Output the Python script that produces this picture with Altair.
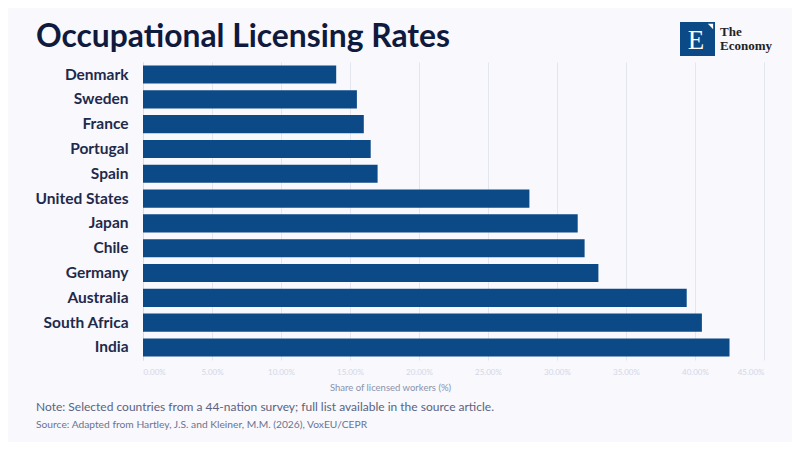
import altair as alt
import pandas as pd

countries = ["Denmark", "Sweden", "France", "Portugal", "Spain", "United States",
             "Japan", "Chile", "Germany", "Australia", "South Africa", "India"]
shares = [0.140, 0.155, 0.160, 0.165, 0.170, 0.280,
          0.315, 0.320, 0.330, 0.394, 0.405, 0.425]
x_ticks = [0, 0.05, 0.10, 0.15, 0.20, 0.25, 0.30, 0.35, 0.40, 0.45]

title_text = "Occupational Licensing Rates"
note_text = "Note: Selected countries from a 44-nation survey; full list available in the source article."
source_text = "Source: Adapted from Hartley, J.S. and Kleiner, M.M. (2026), VoxEU/CEPR"

df = pd.DataFrame({"country": countries, "share": shares})
one = pd.DataFrame({"a": [0]})

FONT = "Lato"
BG = "#f8f8fd"
BAR = "#0c4a87"

bars = alt.Chart(df).mark_bar(color=BAR).encode(
    x=alt.X("share:Q",
            scale=alt.Scale(domain=[0, 0.45], nice=False),
            axis=alt.Axis(values=x_ticks, format=".2%", title="Share of licensed workers (%)",
                          labelColor="#d3d7e6", labelFontSize=8, labelPadding=8,
                          titleColor="#8a92ab", titleFontSize=9.5, titleFontWeight="normal",
                          titlePadding=6, titleX=247, grid=True, gridColor="#e3e6ee", domain=False,
                          ticks=False, labelFont=FONT, titleFont=FONT)),
    y=alt.Y("country:N", sort=countries,
            scale=alt.Scale(paddingInner=0.27, paddingOuter=0.14),
            axis=alt.Axis(title=None, labelColor="#1f2a4b", labelFontSize=15.5,
                          labelFontWeight="bold", labelFont=FONT, labelPadding=15,
                          ticks=False, domain=True, domainColor="#d8dbe5", grid=False)),
)

def txt(text, x, y, size, color, weight="normal", font=FONT, align="left"):
    return alt.Chart(one).mark_text(
        text=text, align=align, baseline="alphabetic", fontSize=size, color=color,
        fontWeight=weight, font=font
    ).encode(x=alt.value(x), y=alt.value(y))

title = txt(title_text, -107, -15, 31.8, "#0f1a3d", weight="bold")
note = txt(note_text, -107, 349, 12.0, "#5b6380")
source = txt(source_text, -107, 366, 10.25, "#6b7390")

logo_box = alt.Chart(one).mark_rect(color="#0c4a87").encode(
    x=alt.value(537), x2=alt.value(572), y=alt.value(-40), y2=alt.value(-6))
logo_e = txt("E", 553, -13, 27, "white", font="Liberation Serif", align="center")
logo_tri = alt.Chart(one).mark_point(
    shape="M-1,-1L1,-1L1,1Z", filled=True, color="white", opacity=1, size=28
).encode(x=alt.value(567.5), y=alt.value(-35.5))
logo_the = txt("The", 577, -26, 13, "#222222", weight="bold", font="Liberation Serif")
logo_eco = txt("Economy", 577, -12, 13, "#222222", weight="bold", font="Liberation Serif")

chart = alt.layer(bars, title, note, source, logo_box, logo_e, logo_tri, logo_the, logo_eco).properties(
    width=621, height=298,
    background=BG,
    padding={"left": 135, "top": 54, "right": 28, "bottom": 82},
    autosize=alt.AutoSizeParams(type="none"),
).configure_view(stroke=None)

chart.save("out.html", embed_options={"renderer": "svg", "actions": False})
